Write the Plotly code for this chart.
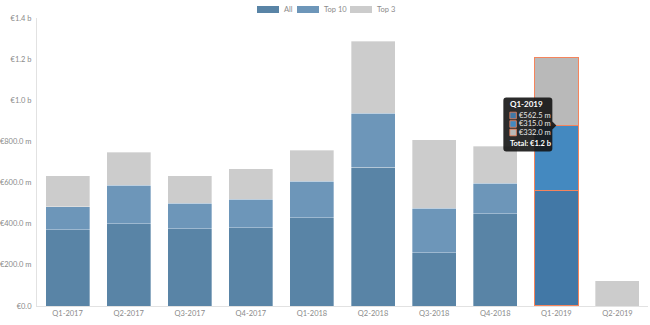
import plotly.graph_objects as go

# ---------------- data ----------------
categories = ["Q1-2017", "Q2-2017", "Q3-2017", "Q4-2017", "Q1-2018",
              "Q2-2018", "Q3-2018", "Q4-2018", "Q1-2019", "Q2-2019"]
all_vals = [370, 400, 375, 381, 429, 674, 258, 449, 562.5, None]      # € m
top10_vals = [112, 188, 125, 139, 177, 264, 217, 148, 315.0, None]    # € m
top3_vals = [151, 159, 133, 147, 152, 350, 333, 179, 332.0, 123]      # € m
series_names = ["All", "Top 10", "Top 3"]
y_tickvals = [0, 200, 400, 600, 800, 1000, 1200, 1400]
y_ticktext = ["€0.0", "€200.0 m", "€400.0 m", "€600.0 m", "€800.0 m",
              "€1.0 b", "€1.2 b", "€1.4 b"]
highlight = "Q1-2019"
tooltip_values = ["€562.5 m", "€315.0 m", "€332.0 m"]
tooltip_total = "Total: €1.2 b"

# ---------------- style ----------------
W, H = 650, 325
ML, MR, MT, MB = 37, 2, 18, 19
FONT = "Lato"
base_colors = ["#5984a6", "#6d96b9", "#cccccc"]
hi_colors = ["#4278a6", "#4489c0", "#b9b9b9"]
hi_line = "#f5845c"
text_grey = "#8a8a8a"
axis_grey = "#e2e2e2"

hi_idx = categories.index(highlight)
series = [all_vals, top10_vals, top3_vals]

fig = go.Figure()
for name, vals, bc, hc in zip(series_names, series, base_colors, hi_colors):
    fig.add_trace(go.Bar(
        x=categories, y=vals, name=name,
        marker=dict(
            color=[hc if c == highlight else bc for c in categories],
            line=dict(
                color=[hi_line if c == highlight else "rgba(255,255,255,0.55)" for c in categories],
                width=[1.2 if c == highlight else 0.6 for c in categories],
            ),
        ),
        hoverinfo="skip",
    ))

pw = W - ML - MR
ph = H - MT - MB


def px_x(px):
    return (px - ML) / pw


def px_y(py):
    return (H - MB - py) / ph


shapes = []
annotations = []

# ---------- legend (manual swatches) ----------
legend_items = [(257, 283), (297, 323), (350, 376)]
for (sx, tx), name, col in zip(legend_items, series_names, base_colors):
    shapes.append(dict(type="rect", xref="paper", yref="paper",
                       x0=px_x(sx), x1=px_x(sx + 22), y0=px_y(13), y1=px_y(6),
                       fillcolor=col, line=dict(width=0)))
    annotations.append(dict(xref="paper", yref="paper", x=px_x(tx), y=px_y(9.5),
                            text=name, showarrow=False, xanchor="left", yanchor="middle",
                            font=dict(family=FONT, size=7.5, color=text_grey), borderpad=0))

# ---------- tooltip anchored at top of Top 10 segment of highlighted bar ----------
ax_ = hi_idx
ay_ = all_vals[hi_idx] + top10_vals[hi_idx]
L, R, T, B, r = -53, -4, 28, -26, 3
path = (f"M{L + r},{T} L{R - r},{T} Q{R},{T} {R},{T - r} L{R},4 L0,0 L{R},-4 "
        f"L{R},{B + r} Q{R},{B} {R - r},{B} L{L + r},{B} Q{L},{B} {L},{B + r} "
        f"L{L},{T - r} Q{L},{T} {L + r},{T} Z")
shapes.append(dict(type="path", xref="x", yref="y", xsizemode="pixel", ysizemode="pixel",
                   xanchor=ax_, yanchor=ay_, path=path,
                   fillcolor="rgba(20,20,20,0.9)", line=dict(width=0)))

annotations.append(dict(x=ax_, y=ay_, xref="x", yref="y", text="<b>" + highlight + "</b>",
                        showarrow=False, xanchor="left", yanchor="middle",
                        xshift=-47, yshift=21, borderpad=0,
                        font=dict(family=FONT, size=8, color="white")))
row_shifts = [10, 1.5, -7]
for val, ys, col in zip(tooltip_values, row_shifts, hi_colors):
    shapes.append(dict(type="rect", xref="x", yref="y", xsizemode="pixel", ysizemode="pixel",
                       xanchor=ax_, yanchor=ay_, x0=-46.5, x1=-40, y0=ys - 3.3, y1=ys + 3.3,
                       fillcolor=col, line=dict(color=hi_line, width=0.8)))
    annotations.append(dict(x=ax_, y=ay_, xref="x", yref="y", text=val,
                            showarrow=False, xanchor="left", yanchor="middle",
                            xshift=-38, yshift=ys, borderpad=0,
                            font=dict(family=FONT, size=7.5, color="#e8e8e8")))
annotations.append(dict(x=ax_, y=ay_, xref="x", yref="y", text="<b>" + tooltip_total + "</b>",
                        showarrow=False, xanchor="left", yanchor="middle",
                        xshift=-47, yshift=-18, borderpad=0,
                        font=dict(family=FONT, size=7.5, color="white")))

fig.update_layout(
    width=W, height=H,
    margin=dict(l=ML, r=MR, t=MT, b=MB, pad=0),
    barmode="stack", bargap=0.28,
    showlegend=False,
    paper_bgcolor="white", plot_bgcolor="white",
    font=dict(family=FONT, size=7.5, color=text_grey),
    shapes=shapes, annotations=annotations,
    hovermode=False,
)
fig.update_xaxes(type="category", showgrid=False, zeroline=False,
                 showline=True, linecolor=axis_grey, linewidth=1,
                 ticks="", automargin=False,
                 tickfont=dict(family=FONT, size=7.5, color=text_grey))
fig.update_yaxes(range=[0, 1400], showgrid=False, zeroline=False,
                 showline=True, linecolor=axis_grey, linewidth=1,
                 tickvals=y_tickvals, ticktext=y_ticktext, ticks="",
                 ticklabelstandoff=3, automargin=False,
                 tickfont=dict(family=FONT, size=7.5, color=text_grey))

fig.write_html("out.html")
